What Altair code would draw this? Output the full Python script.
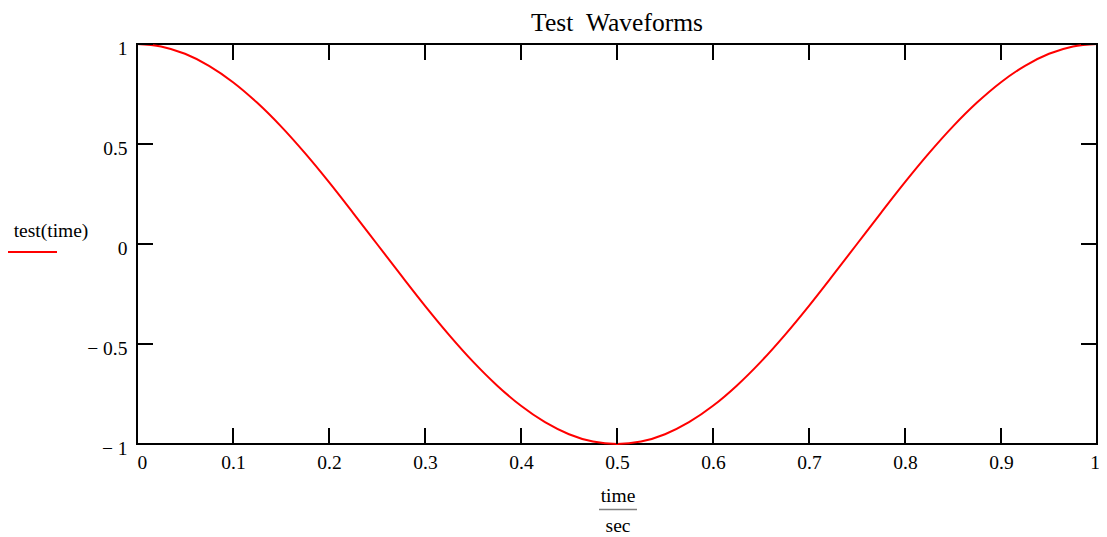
import altair as alt
import pandas as pd

# ---- data ----
time_values = [0.0, 0.025, 0.05, 0.075, 0.1, 0.125, 0.15, 0.175, 0.2, 0.225,
               0.25, 0.275, 0.3, 0.325, 0.35, 0.375, 0.4, 0.425, 0.45, 0.475,
               0.5, 0.525, 0.55, 0.575, 0.6, 0.625, 0.65, 0.675, 0.7, 0.725,
               0.75, 0.775, 0.8, 0.825, 0.85, 0.875, 0.9, 0.925, 0.95, 0.975, 1.0]
test_values = [1.0, 0.988, 0.951, 0.891, 0.809, 0.707, 0.588, 0.454, 0.309, 0.156,
               0.0, -0.156, -0.309, -0.454, -0.588, -0.707, -0.809, -0.891, -0.951, -0.988,
               -1.0, -0.988, -0.951, -0.891, -0.809, -0.707, -0.588, -0.454, -0.309, -0.156,
               0.0, 0.156, 0.309, 0.454, 0.588, 0.707, 0.809, 0.891, 0.951, 0.988, 1.0]
x_tick_values = [0, 0.1, 0.2, 0.3, 0.4, 0.5, 0.6, 0.7, 0.8, 0.9, 1.0]
y_tick_values = [-1, -0.5, 0, 0.5, 1]
title_text = "Test\u00a0\u00a0Waveforms"
legend_label = "test(time)"
x_title_top = "time"
x_title_bottom = "sec"

W, H = 960, 400
FONT = "Liberation Serif"
FS = 19.5
RED = "#ff0000"

df = pd.DataFrame({"time": time_values, "test": test_values})
xt = pd.DataFrame({"t": x_tick_values})
yt = pd.DataFrame({"v": y_tick_values})

x_scale = alt.Scale(domain=[0, 1], nice=False, zero=False)
y_scale = alt.Scale(domain=[-1, 1], nice=False, zero=False)

x_axis = alt.Axis(
    values=x_tick_values, title=None, grid=False, domain=False, ticks=False,
    tickSize=0, labelPadding=9, format=".1~f", labelOverlap=False, labelFlush=False,
    labelAlign={"condition": {"test": "datum.value == 0", "value": "left"}, "value": "center"},
    labelOffset={"condition": {"test": "datum.value == 1", "value": -2.5}, "value": 0},
    labelFont=FONT, labelFontSize=FS, labelColor="black",
)
y_axis = alt.Axis(
    values=y_tick_values, title=None, grid=False, domain=False, ticks=False,
    tickSize=0, labelPadding=10, labelOffset=4, labelOverlap=False, labelFlush=False,
    labelExpr="datum.value < 0 ? '\u2212 ' + format(-datum.value, '.1~f') : format(datum.value, '.1~f')",
    labelFont=FONT, labelFontSize=FS, labelColor="black",
)

line = alt.Chart(df).mark_line(color=RED, strokeWidth=2, interpolate="monotone").encode(
    x=alt.X("time:Q", scale=x_scale, axis=x_axis),
    y=alt.Y("test:Q", scale=y_scale, axis=y_axis),
)

tick_style = dict(color="black", strokeWidth=2)
top_ticks = alt.Chart(xt).mark_rule(**tick_style).encode(
    x=alt.X("t:Q", scale=x_scale, axis=x_axis), y=alt.value(0), y2=alt.value(16))
bottom_ticks = alt.Chart(xt).mark_rule(**tick_style).encode(
    x=alt.X("t:Q", scale=x_scale, axis=x_axis), y=alt.value(H - 16), y2=alt.value(H))
left_ticks = alt.Chart(yt).mark_rule(**tick_style).encode(
    y=alt.Y("v:Q", scale=y_scale, axis=y_axis), x=alt.value(0), x2=alt.value(16))
right_ticks = alt.Chart(yt).mark_rule(**tick_style).encode(
    y=alt.Y("v:Q", scale=y_scale, axis=y_axis), x=alt.value(W - 16), x2=alt.value(W))

title = alt.Chart(pd.DataFrame({"s": [title_text]})).mark_text(
    font=FONT, fontSize=25.5, baseline="alphabetic", align="center", color="black"
).encode(text="s:N", x=alt.value(W / 2), y=alt.value(-13.5))

xt_top = alt.Chart(pd.DataFrame({"s": [x_title_top]})).mark_text(
    font=FONT, fontSize=FS, baseline="alphabetic", align="center", color="black"
).encode(text="s:N", x=alt.value(W / 2 + 1), y=alt.value(58 + H))
xt_bar = alt.Chart(pd.DataFrame({"s": [0]})).mark_rule(color="#808080", strokeWidth=1.5).encode(
    x=alt.value(462), x2=alt.value(500), y=alt.value(H + 65.5))
xt_bottom = alt.Chart(pd.DataFrame({"s": [x_title_bottom]})).mark_text(
    font=FONT, fontSize=FS, baseline="alphabetic", align="center", color="black"
).encode(text="s:N", x=alt.value(W / 2 + 1), y=alt.value(H + 88))

leg_text = alt.Chart(pd.DataFrame({"s": [legend_label]})).mark_text(
    font=FONT, fontSize=FS, baseline="alphabetic", align="center", color="black"
).encode(text="s:N", x=alt.value(-86), y=alt.value(193))
leg_line = alt.Chart(pd.DataFrame({"s": [0]})).mark_rule(color=RED, strokeWidth=2).encode(
    x=alt.value(-130), x2=alt.value(-80), y=alt.value(208))

chart = alt.layer(
    line, top_ticks, bottom_ticks, left_ticks, right_ticks,
    title, xt_top, xt_bar, xt_bottom, leg_text, leg_line,
).properties(
    width=W, height=H,
    autosize=alt.AutoSizeParams(type="none"),
    padding={"left": 129, "top": 36, "right": 2, "bottom": 96},
).configure_view(stroke="black", strokeWidth=2)

chart.save("out.html", embed_options={"renderer": "svg", "actions": False})
